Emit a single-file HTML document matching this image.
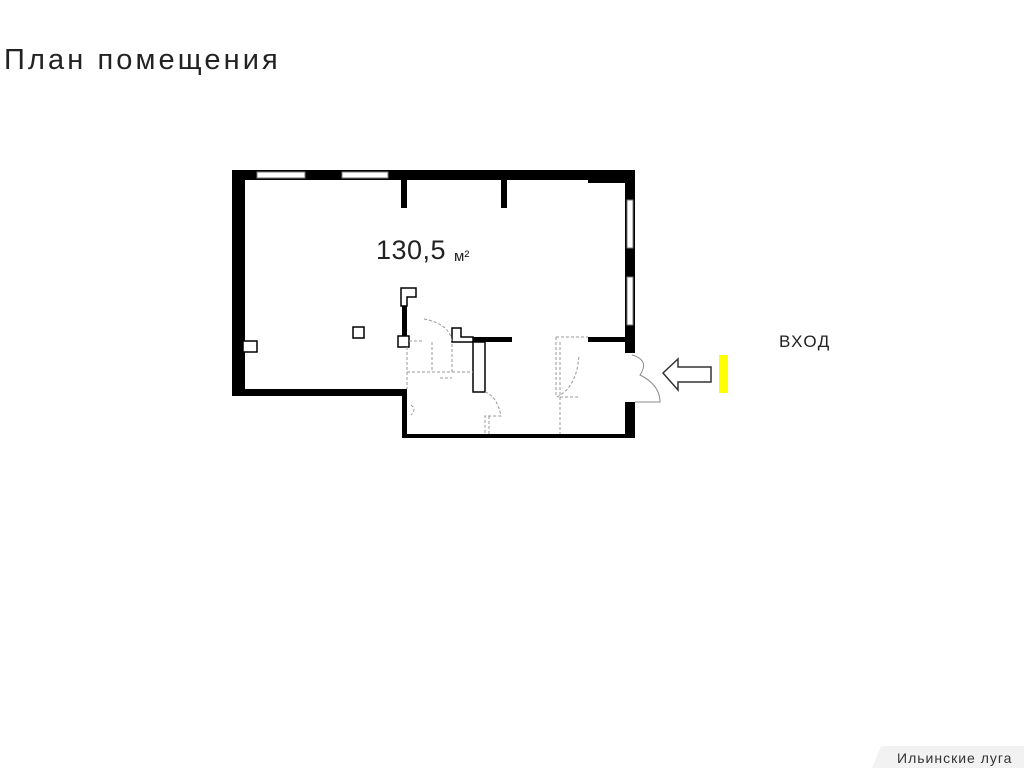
<!DOCTYPE html>
<html><head><meta charset="utf-8"><style>
body{margin:0;width:1024px;height:768px;background:#fff;overflow:hidden;position:relative;font-family:"Liberation Sans",sans-serif}
</style></head><body>
<div style="position:absolute;left:4px;top:44px;font-size:29px;color:#222;letter-spacing:3.1px">План помещения</div>
<div style="position:absolute;left:779px;top:332px;font-size:17px;color:#222;letter-spacing:1.5px">ВХОД</div>
<div style="position:absolute;left:872px;top:746px;width:152px;height:22px;background:#f2f2f2;clip-path:polygon(6% 0,100% 0,100% 100%,0 100%)"></div>
<div style="position:absolute;left:897px;top:750px;font-size:14px;color:#333;letter-spacing:1px">Ильинские луга</div>
<svg width="1024" height="768" style="position:absolute;left:0;top:0">
<g fill="#000">
<rect x="232" y="170" width="403" height="10"/>
<rect x="588" y="170" width="47" height="13"/>
<rect x="232" y="170" width="13" height="226"/>
<rect x="232" y="389" width="175" height="7"/>
<rect x="402" y="389" width="5" height="49"/>
<rect x="402" y="434" width="233" height="4"/>
<rect x="625" y="170" width="10" height="183"/>
<rect x="625" y="402" width="10" height="36"/>
<rect x="401" y="180" width="6" height="28"/>
<rect x="501" y="180" width="6" height="28"/>
<rect x="402" y="305" width="5" height="31"/>
<rect x="461" y="337" width="51" height="5"/>
<rect x="588" y="337" width="37" height="5"/>
</g>
<g fill="#fff" stroke="#777" stroke-width="1">
<rect x="257" y="172" width="48" height="6"/>
<rect x="342" y="172" width="46" height="6"/>
<rect x="627" y="200" width="6" height="48"/>
<rect x="627" y="277" width="6" height="48"/>
</g>
<g fill="#fff" stroke="#000" stroke-width="1.5">
<rect x="243" y="341" width="14" height="11"/>
<rect x="353" y="327" width="11" height="11"/>
<path d="M401 288h15v9h-9v9h-6z"/>
<rect x="398" y="336" width="11" height="11"/>
<path d="M452 328h9v9h12v5h-21z"/>
<rect x="473" y="342" width="12" height="50"/>
</g>
<g fill="none" stroke="#999" stroke-width="1" stroke-dasharray="3,2">
<path d="M409 341h14M407 347v42M407 372h66M424 319q26 5 28 23M432 342v30h20v-30"/>
<path d="M485 392q12 4 16 24h-16v18M489 434v-18"/>
<path d="M556 337h32M556 337v60M560 342v92M557 397q20-10 22-42M560 397h20"/>
<path d="M411 405q6 4 0 10M440 378h12"/>
</g>
<g fill="none" stroke="#888" stroke-width="1">
<path d="M632 355q18 5 8 20q20 10 20 27h-25"/>
</g>
<path d="M663 373L678 359V367H711V382H678V390Z" fill="#fff" stroke="#333" stroke-width="1.5"/>
<rect x="719" y="355" width="9" height="38" fill="#ffff00"/>
<text x="376" y="259" font-family="Liberation Sans,sans-serif" font-size="27" fill="#222" letter-spacing="0.5">130,5</text>
<text x="454" y="261" font-family="Liberation Sans,sans-serif" font-size="15" fill="#222">м²</text>
</svg>
</body></html>
